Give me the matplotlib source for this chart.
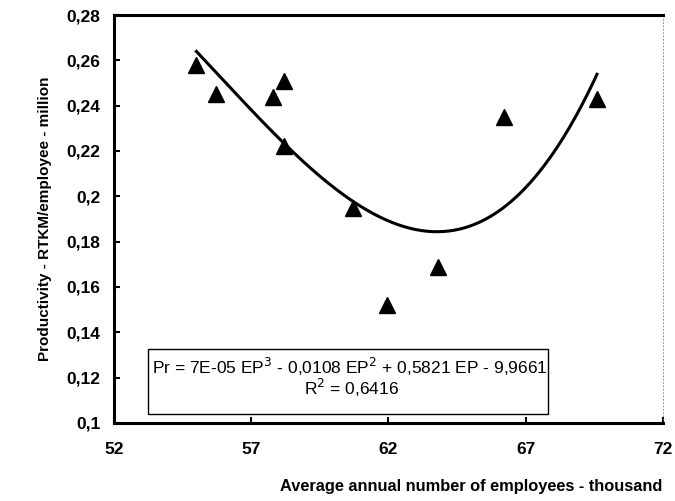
import matplotlib
matplotlib.use('Agg')
import matplotlib.pyplot as plt
from matplotlib.ticker import FuncFormatter, MultipleLocator, FixedLocator
import matplotlib.patches as patches
import numpy as np

plt.rcParams['font.family'] = ['Liberation Sans', 'DejaVu Sans']

# data
employees = [55.0, 55.7, 57.8, 58.2, 58.2, 60.7, 61.95, 63.8, 66.2, 69.6]
productivity = [0.258, 0.245, 0.244, 0.251, 0.222, 0.195, 0.152, 0.169, 0.235, 0.243]
x_ticks = [52, 57, 62, 67, 72]
eq_text = 'Pr = 7E-05 EP$^{3}$ - 0,0108 EP$^{2}$ + 0,5821 EP - 9,9661'
r2_text = 'R$^{2}$ = 0,6416'

fig = plt.figure(figsize=(6.75, 5.01), dpi=100)
ax = fig.add_axes([0.169, 0.156, 0.813, 0.814])

ax.plot(employees, productivity, linestyle='none', marker='^', ms=11,
        color='black', zorder=3)

# cubic trend line
coef = np.polyfit(employees, productivity, 3)
xs = np.linspace(min(employees), max(employees), 200)
ax.plot(xs, np.polyval(coef, xs), color='black', lw=2.2, zorder=2)

ax.set_xlim(52, 72)
ax.set_ylim(0.1, 0.28)
ax.xaxis.set_major_locator(FixedLocator(x_ticks))
ax.yaxis.set_major_locator(MultipleLocator(0.02))
fmt = FuncFormatter(lambda v, p: f'{v:.2f}'.rstrip('0').replace('.', ','))
ax.yaxis.set_major_formatter(fmt)
ax.xaxis.set_major_formatter(FuncFormatter(lambda v, p: f'{v:.0f}'))

for s in ['left', 'bottom', 'top']:
    ax.spines[s].set_linewidth(2.2)
ax.spines['right'].set_linewidth(0.6)
ax.spines['right'].set_linestyle((0, (1, 3)))
ax.spines['right'].set_color('#777777')

ax.tick_params(direction='in', length=4, width=1.5, labelsize=12.5)
ax.tick_params(axis='y', pad=10)
ax.tick_params(axis='x', pad=14)
for lab in ax.get_xticklabels() + ax.get_yticklabels():
    lab.set_fontweight('bold')

ax.set_ylabel('Productivity - RTKM/employee - million', fontsize=11,
              fontweight='bold', labelpad=10)
fig.text(0.982, 0.028, 'Average annual number of employees - thousand',
         ha='right', va='center', fontsize=11.8, fontweight='bold')

# equation box
box = patches.Rectangle((0.062, 0.022), 0.728, 0.159, transform=ax.transAxes,
                        facecolor='white', edgecolor='black', lw=1.0, zorder=4)
ax.add_patch(box)
ax.text(0.069, 0.137, eq_text, transform=ax.transAxes, ha='left', va='center',
        fontsize=12.5, zorder=5)
ax.text(0.432, 0.085, r2_text, transform=ax.transAxes, ha='center', va='center',
        fontsize=12.5, zorder=5)

fig.savefig('out.png', dpi=100)
